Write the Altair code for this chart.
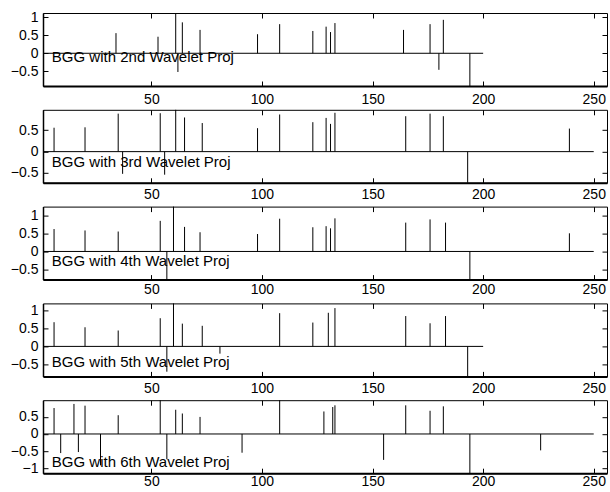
import altair as alt
import pandas as pd

# ---- data ----
labels = ["BGG with 2nd Wavelet Proj", "BGG with 3rd Wavelet Proj", "BGG with 4th Wavelet Proj",
          "BGG with 5th Wavelet Proj", "BGG with 6th Wavelet Proj"]

pos_2nd = [34, 53, 61, 62, 64, 72, 98, 108, 123, 129, 131, 133, 164, 176, 180, 182, 194]
val_2nd = [0.56, 0.46, 1.12, -0.52, 0.86, 0.65, 0.53, 0.81, 0.62, 0.74, 0.59, 0.84, 0.65, 0.81, -0.46, 0.93, -0.91]

pos_3rd = [6, 20, 35, 37, 54, 56, 61, 65, 73, 98, 108, 123, 129, 131, 133, 165, 176, 182, 193, 239]
val_3rd = [0.56, 0.57, 0.89, -0.52, 0.90, -0.54, 0.98, 0.80, 0.67, 0.55, 0.87, 0.69, 0.79, 0.65, 0.91, 0.83, 0.89, 0.83, -0.73, 0.54]

pos_4th = [6, 20, 35, 54, 57, 60, 65, 72, 98, 108, 123, 129, 131, 133, 165, 176, 183, 194, 239]
val_4th = [0.63, 0.59, 0.56, 0.86, -0.79, 1.26, 0.69, 0.54, 0.49, 0.92, 0.68, 0.71, 0.65, 0.93, 0.81, 0.90, 0.81, -0.78, 0.51]

pos_5th = [6, 20, 35, 54, 57, 60, 64, 73, 81, 108, 123, 130, 133, 165, 176, 183, 193]
val_5th = [0.67, 0.53, 0.44, 0.78, -0.70, 1.19, 0.63, 0.57, -0.20, 0.92, 0.66, 0.93, 1.06, 0.84, 0.64, 0.84, -0.83]

pos_6th = [6, 9, 15, 17, 20, 27, 35, 54, 57, 61, 64, 72, 91, 108, 128, 132, 133, 155, 165, 176, 182, 194, 226]
val_6th = [0.76, -0.56, 0.88, -0.53, 0.83, -0.92, 0.55, 0.99, -0.74, 0.71, 0.60, 0.50, -0.55, 0.99, 0.66, 0.79, 0.84, -0.76, 0.84, 0.68, 0.81, -1.15, -0.48]

positions = [pos_2nd, pos_3rd, pos_4th, pos_5th, pos_6th]
values = [val_2nd, val_3rd, val_4th, val_5th, val_6th]
baseline_end = [200, 250, 250, 200, 250]
y_min = [-0.91, -0.73, -0.79, -0.83, -1.15]
y_max = [1.12, 0.98, 1.26, 1.19, 0.99]
y_ticks = [[-0.5, 0, 0.5, 1], [-0.5, 0, 0.5], [-0.5, 0, 0.5, 1], [-0.5, 0, 0.5, 1], [-1, -0.5, 0, 0.5]]
x_ticks = [50, 100, 150, 200, 250]
x_domain = [1, 256]
label_x = 5
label_y = [-0.24, -0.35, -0.42, -0.575, -0.97]

# ---- styling ----
W, H = 564, 73
FONT = "Liberation Sans"
FS = 14
x_label_pad = [6, 5, 3, 5, 1]

panels = []
for i in range(5):
    xs = alt.Scale(domain=x_domain, nice=False, zero=False)
    ys = alt.Scale(domain=[y_min[i], y_max[i]], nice=False, zero=False)

    stems_df = pd.DataFrame({"x": positions[i], "v": values[i], "z": [0] * len(positions[i])})
    stems = alt.Chart(stems_df).mark_rule(color="black", strokeWidth=1).encode(
        x=alt.X("x:Q", scale=xs, title=None,
                axis=alt.Axis(orient="bottom", values=x_ticks, ticks=False, domain=True,
                              domainColor="black", domainWidth=2, grid=False,
                              labelPadding=x_label_pad[i], format="d", labelFont=FONT,
                              labelFontSize=FS, labelColor="black")),
        y=alt.Y("z:Q", scale=ys, title=None,
                axis=alt.Axis(orient="left", values=y_ticks[i], ticks=False, domain=True,
                              domainColor="black", domainWidth=1.5, grid=False,
                              labelPadding=5, format="~g", labelFont=FONT, labelFontSize=FS,
                              labelColor="black")),
        y2="v:Q",
    )

    base_df = pd.DataFrame({"x0": [1], "x1": [baseline_end[i]], "z": [0]})
    base = alt.Chart(base_df).mark_rule(color="black", strokeWidth=1).encode(
        x=alt.X("x0:Q", scale=xs, title=None,
                axis=alt.Axis(orient="top", offset=-H, values=x_ticks, labels=False, ticks=True,
                              tickSize=5, tickColor="black", domain=False, grid=False)),
        x2="x1:Q",
        y=alt.Y("z:Q", scale=ys, title=None,
                axis=alt.Axis(orient="right", offset=-W, values=y_ticks[i], labels=False, ticks=True,
                              tickSize=5, tickColor="black", domain=False, grid=False)),
    )

    lab_df = pd.DataFrame({"x": [label_x], "y": [label_y[i]], "t": [labels[i]]})
    lab = alt.Chart(lab_df).mark_text(align="left", baseline="alphabetic", font=FONT, fontSize=15,
                                      color="black").encode(
        x=alt.X("x:Q", scale=xs, title=None,
                axis=alt.Axis(orient="bottom", offset=-H, values=x_ticks, labels=False, ticks=True,
                              tickSize=5, tickColor="black", domain=False, grid=False)),
        y=alt.Y("y:Q", scale=ys, title=None,
                axis=alt.Axis(orient="left", offset=-W, values=y_ticks[i], labels=False, ticks=True,
                              tickSize=5, tickColor="black", domain=False, grid=False)),
        text="t:N",
    )

    panel = alt.layer(stems, base, lab).resolve_axis(x="independent", y="independent").properties(
        width=W, height=H)
    panels.append(panel)

chart = alt.vconcat(*panels, spacing=23.8, bounds="flush").properties(
    padding={"left": 9, "top": 9, "right": 2, "bottom": 2},
    background="white",
).configure_view(
    stroke="black", strokeWidth=1
)

chart.save("out.html", embed_options={"renderer": "svg", "actions": False})
